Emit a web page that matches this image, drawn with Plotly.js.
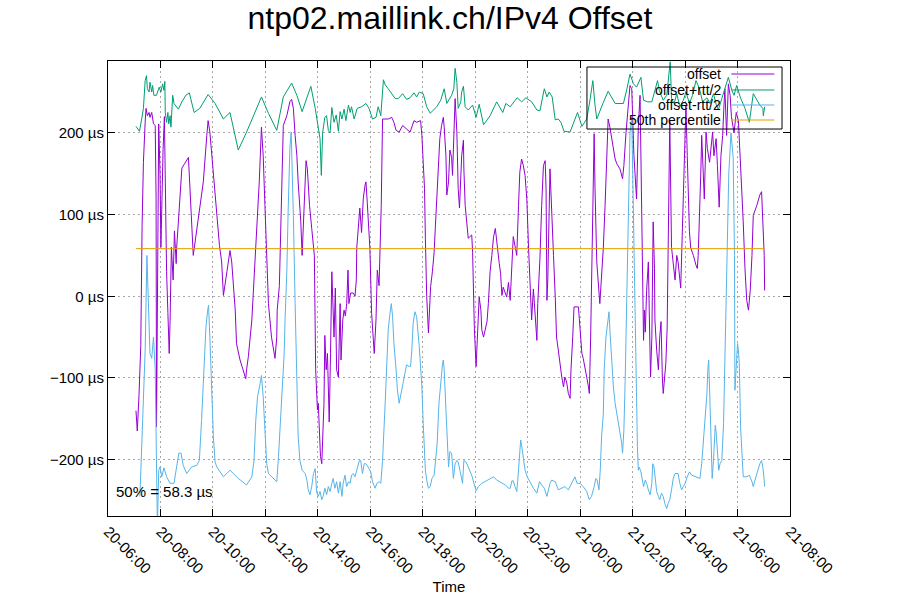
<!DOCTYPE html>
<html>
<head>
<meta charset="utf-8">
<script src="https://cdn.plot.ly/plotly-3.0.1.min.js"></script>
<style>html,body{margin:0;padding:0;background:#fff;}#chart{width:900px;height:600px;}</style>
</head>
<body>
<div id="chart"></div>
<script>
// Time values are minutes after 20th 06:00 (base date chosen arbitrarily; only day-hour shown)
const offsetMin = [64,67,71,75,78,81,85,87,90,94,96,100,104,108,110,111,116,119,121,124,
126,129,132,134,137,140,142,145,149,152,156,157,161,165,169,176,184,195,203,210,
218,226,229,233,241,249,255,260,264,272,279,283,287,291,294,302,309,315,317,321,
329,334,340,346,351,355,359,363,367,374,382,386,387,392,397,401,409,416,420,424,
428,432,435,441,444,447,451,453,456,461,466,470,472,475,479,481,486,489,491,494,
496,499,502,504,506,509,512,517,520,523,527,531,533,537,540,543,546,549,551,555,
561,565,568,569,573,576,580,584,588,590,593,596,599,603,607,609,613,616,620,625,
628,631,641,649,654,659,666,674,683,691,700,706,715,718,721,724,726,729,733,735,
738,742,746,749,752,755,759,763,767,769,773,775,779,782,786,788,791,794,798,801,
804,807,809,813,814,817,821,824,828,832,834,838,842,845,847,849,853,855,859,867,
870,874,878,882,886,889,895,898,901,904,912,916,920,927,931,935,939,942,946,950,
954,958,962,969,973,977,981,983,988,992,996,1000,1002,1004,1006,1011,1015,1019,1023,1026,
1030,1034,1038,1042,1045,1049,1053,1057,1059,1063,1066,1076,1080,1084,1087,1091,1095,1099,1101,1104,
1109,1112,1114,1118,1125,1133,1137,1141,1144,1148,1152,1156,1160,1164,1171,1177,1180,1185,1190,1194,
1198,1203,1209,1213,1217,1221,1224,1225,1227,1229,1232,1234,1236,1238,1241,1244,1247,1250,1251,1255,
1259,1262,1265,1268,1270,1272,1276,1279,1285,1289,1297,1301,1304,1310,1312,1316,1320,1322,1325,1330,
1333,1339,1345,1348,1350,1353,1356,1358,1360,1364,1368,1371,1376,1379,1383,1386,1391,1394,1398,1402,
1406,1409,1411,1415,1419,1423,1426,1432,1437,1442,1450,1453,1457,1461,1465,1469,1473,1476,1484,1491,
1495,1498,1501,1502];
const offsetUs = [-140,-165,-120,-60,87,164,213,230,221,225,219,225,211,209,120,-160,211,150,60,140,
180,220,100,30,-20,-70,-30,60,20,80,40,59,91,132,157,163,170,50,83,111,
140,197,215,201,152,108,62,42,1,30,56,42,14,-17,-58,-78,-90,-101,-90,-74,
-29,20,83,140,207,172,111,50,-9,-50,-76,-50,-17,13,144,209,221,238,241,230,
197,172,140,91,50,91,140,166,156,111,83,54,50,-90,-139,-131,-196,-205,-172,-131,
-48,-90,-70,-131,-154,-70,30,-50,10,-90,-99,-9,-78,-29,-17,-24,-9,32,-9,4,
4,0,20,59,95,108,78,120,136,140,115,91,59,-21,-50,-70,-29,32,13,111,
217,217,217,219,213,203,201,209,205,201,215,213,215,197,164,132,71,0,-45,-17,
12,30,54,87,120,160,193,209,219,207,172,124,140,179,170,148,193,242,201,132,
108,140,172,191,156,111,87,71,73,75,54,-40,-86,-50,-9,-1,-17,-41,-50,-31,
-9,30,50,73,83,66,40,28,1,11,-1,17,-5,73,62,50,111,152,168,160,
148,119,59,-29,9,-29,-54,-9,46,111,160,166,132,-5,20,156,91,50,0,-50,
-66,-86,-99,-111,-99,-105,-119,-125,-90,-50,-13,-13,-41,-70,-76,-86,-99,-111,-119,-50,
132,199,132,42,-9,59,111,172,217,207,195,181,168,162,156,144,160,201,240,258,
254,172,119,207,246,91,7,-54,-17,-44,7,22,42,-17,-99,-50,91,34,-29,-66,
-90,-50,-31,-99,-119,-107,-82,-39,215,60,20,50,42,10,50,99,193,234,172,79,
59,50,38,34,50,91,152,197,172,119,201,181,164,181,201,172,193,160,109,172,
197,234,254,197,260,246,220,200,225,215,132,91,34,-5,-17,7,50,99,111,124,
128,91,50,7];

const upperMin = [64,72,77,81,85,88,90,94,96,100,102,105,111,117,121,125,128,130,131,134,
137,139,142,144,148,151,161,169,178,186,197,210,229,245,264,279,298,317,351,367,
386,401,420,432,444,464,474,481,485,488,491,496,500,504,508,512,517,522,527,531,
535,540,544,550,554,557,563,570,580,590,597,605,613,618,624,630,634,641,657,664,
674,683,691,700,706,712,721,729,737,752,761,769,775,786,791,794,798,801,807,809,
813,817,824,834,842,849,853,859,874,889,903,910,920,936,946,956,969,981,988,998,
1004,1009,1016,1023,1030,1036,1043,1057,1064,1074,1084,1095,1103,1109,1114,1118,1132,1144,1160,1179,
1187,1194,1202,1209,1219,1225,1234,1244,1251,1257,1261,1270,1278,1284,1286,1289,1295,1301,1308,1316,
1322,1330,1337,1345,1353,1360,1370,1377,1385,1391,1396,1404,1411,1419,1427,1432,1438,1446,1457,1467,
1476,1484,1491,1498,1499,1502];
const upperUs = [208,202,217,230,264,270,254,250,262,250,258,246,246,256,250,260,252,263,225,213,
225,211,221,207,246,236,229,238,246,249,225,230,247,236,217,225,179,201,244,224,
203,244,261,246,226,257,230,207,193,148,201,219,221,203,200,231,213,222,202,226,
217,229,215,234,225,232,217,230,232,236,230,217,219,232,221,265,259,254,242,242,
248,241,243,249,244,250,248,232,224,232,240,254,236,246,254,279,262,230,238,250,
257,232,228,234,219,235,225,210,221,238,225,236,232,243,238,243,238,228,227,254,
244,250,244,216,217,213,202,201,211,225,208,217,242,264,234,217,236,251,236,236,
254,272,260,256,268,240,238,238,252,264,252,240,246,272,287,242,236,248,232,240,
250,236,246,264,254,238,243,236,248,235,228,242,254,268,252,246,258,244,230,213,
248,240,234,230,221,232];

const lowerMin = [73,77,81,85,89,92,96,100,104,108,110,113,116,119,123,128,134,142,151,157,
162,167,172,180,191,203,209,214,220,224,228,230,233,237,241,245,249,264,279,298,
317,329,334,338,342,348,351,355,359,363,367,378,386,390,395,400,403,405,409,412,
416,419,421,424,428,432,435,439,444,451,455,458,462,466,470,474,477,481,485,489,
492,496,500,504,508,512,515,519,523,527,531,535,538,542,546,550,554,557,561,565,
570,575,578,582,586,590,595,601,605,611,615,620,624,628,634,637,641,645,648,651,
654,659,662,666,672,676,680,683,689,692,695,698,702,706,712,718,721,726,729,733,
737,741,746,749,753,757,761,765,767,769,773,776,779,782,786,790,794,798,801,805,
809,811,814,819,824,832,837,842,847,855,862,874,882,889,897,909,916,920,924,927,
931,935,937,941,944,946,950,954,959,966,973,981,987,992,998,1004,1011,1015,1023,1030,
1038,1045,1053,1061,1068,1073,1080,1087,1095,1101,1106,1112,1116,1119,1123,1126,1129,1133,1135,1139,
1143,1146,1148,1152,1156,1160,1164,1167,1171,1175,1177,1180,1183,1185,1187,1190,1194,1198,1201,1203,
1205,1208,1211,1213,1215,1219,1222,1225,1229,1232,1236,1240,1244,1246,1249,1252,1255,1259,1262,1266,
1270,1274,1278,1281,1285,1289,1293,1297,1304,1308,1312,1316,1320,1325,1330,1335,1343,1350,1354,1358,
1362,1366,1370,1372,1374,1377,1379,1382,1385,1387,1389,1391,1394,1397,1400,1404,1408,1410,1411,1416,
1420,1425,1430,1433,1434,1440,1442,1444,1447,1451,1453,1461,1467,1473,1476,1480,1484,1487,1491,1495,
1498,1501,1502];
const lowerUs = [-245,-188,-131,-66,50,-9,-70,-76,-50,-90,-160,-285,-213,-209,-221,-210,-221,-229,-229,-209,
-192,-192,-207,-217,-209,-207,-201,-152,-90,-38,-17,-11,-50,-111,-172,-203,-209,-221,-213,-223,
-231,-221,-201,-152,-123,-107,-97,-123,-160,-205,-217,-223,-227,-196,-144,-99,-70,-29,30,103,
181,201,168,99,-9,-119,-172,-201,-213,-217,-225,-237,-243,-233,-217,-211,-239,-245,-239,-249,
-245,-235,-243,-233,-239,-229,-223,-235,-227,-241,-227,-245,-229,-219,-233,-227,-229,-219,-217,-221,
-211,-201,-201,-217,-205,-205,-209,-215,-227,-235,-229,-227,-229,-201,-131,-82,-41,-21,-9,-25,
-58,-90,-115,-131,-115,-107,-95,-84,-86,-86,-66,-33,-19,-25,-62,-111,-156,-213,-225,-235,
-233,-223,-219,-205,-180,-131,-103,-84,-78,-90,-139,-188,-209,-190,-192,-223,-205,-201,-203,-213,
-227,-229,-201,-203,-209,-219,-229,-238,-233,-229,-227,-223,-221,-225,-227,-231,-235,-235,-226,-226,
-233,-239,-227,-201,-176,-182,-201,-213,-221,-229,-235,-241,-227,-231,-235,-245,-229,-225,-227,-237,
-235,-233,-237,-229,-221,-229,-229,-233,-239,-249,-245,-233,-223,-225,-237,-213,-172,-144,-90,-50,
-29,-19,-41,-78,-111,-131,-144,-156,-172,-180,-192,-164,-103,-41,16,120,200,220,120,40,
-20,-123,-184,-213,-209,-215,-223,-233,-225,-229,-237,-243,-229,-205,-209,-227,-239,-245,-249,-241,
-245,-254,-260,-254,-249,-237,-223,-217,-217,-229,-237,-233,-229,-221,-215,-219,-221,-223,-223,-205,
-178,-148,-119,-90,-78,-131,-180,-223,-201,-180,-158,-166,-192,-213,-205,-201,-156,-111,-66,60,
150,200,170,50,-115,-58,-66,-82,-160,-201,-221,-221,-219,-227,-233,-225,-217,-211,-205,-201,
-210,-225,-233];

const medianUs = 58.3;
const seriesNames = ['offset', 'offset+rtt/2', 'offset-rtt/2', '50th percentile'];
const seriesColors = ['#9400d3', '#009e73', '#56b4e9', '#e69f00'];
const xTickStartMin = 0, xTickEndMin = 26 * 60;

function toTime(m) {
  const ms = Date.UTC(2024, 4, 20, 6, 0) + m * 60000;
  return new Date(ms).toISOString().slice(0, 19).replace('T', ' ');
}

const FONT = 'Liberation Sans, Arial, sans-serif';
const traces = [
  {x: offsetMin.map(toTime), y: offsetUs, name: seriesNames[0], mode: 'lines', line: {color: seriesColors[0], width: 1}},
  {x: upperMin.map(toTime), y: upperUs, name: seriesNames[1], mode: 'lines', line: {color: seriesColors[1], width: 1}},
  {x: lowerMin.map(toTime), y: lowerUs, name: seriesNames[2], mode: 'lines', line: {color: seriesColors[2], width: 1}},
  {x: [toTime(offsetMin[0]), toTime(offsetMin[offsetMin.length - 1])], y: [medianUs, medianUs], name: seriesNames[3], mode: 'lines', line: {color: seriesColors[3], width: 1}}
];

// custom gnuplot-style key (text left of sample line)
const keyRows = [0.9714, 0.9363, 0.9033, 0.8703];
const annotations = seriesNames.map((n, i) => ({
  xref: 'paper', yref: 'paper', x: 0.901, y: keyRows[i], xanchor: 'right', yanchor: 'middle',
  text: n, showarrow: false, font: {family: FONT, size: 14, color: '#000'}, borderpad: 0
}));
annotations.push({
  xref: 'paper', yref: 'paper', x: 0.009, y: 0.053, xanchor: 'left', yanchor: 'middle',
  text: '50% = ' + medianUs + ' µs', showarrow: false, font: {family: FONT, size: 15, color: '#000'}
});
const shapes = [{type: 'rect', xref: 'paper', yref: 'paper', x0: 0.7023, x1: 0.9883, y0: 0.8505, y1: 0.9868,
  line: {color: '#000', width: 1}, fillcolor: 'rgba(0,0,0,0)'}];
seriesColors.forEach((c, i) => shapes.push({type: 'line', xref: 'paper', yref: 'paper',
  x0: 0.914, x1: 0.977, y0: keyRows[i], y1: keyRows[i], line: {color: c, width: 1}}));

const axisCommon = {
  showgrid: true, gridcolor: '#a8a8a8', griddash: '2px,3px', gridwidth: 1,
  ticks: 'inside', ticklen: 7, tickcolor: '#000', mirror: 'ticks',
  showline: true, linecolor: '#000', linewidth: 1, zeroline: false,
  tickfont: {family: FONT, size: 15, color: '#000'}, automargin: false
};

const layout = {
  width: 900, height: 600,
  margin: {l: 108, r: 110, t: 61, b: 84},
  paper_bgcolor: '#fff', plot_bgcolor: '#fff',
  showlegend: false,
  title: {text: 'ntp02.maillink.ch/IPv4 Offset', font: {family: FONT, size: 32, color: '#000'},
    x: 0.5, xanchor: 'center', y: 0.97, yanchor: 'middle'},
  xaxis: Object.assign({}, axisCommon, {
    type: 'date', range: [toTime(xTickStartMin), toTime(xTickEndMin)],
    tick0: toTime(xTickStartMin), dtick: 7200000, tickformat: '%d-%H:%M', tickangle: 45,
    title: {text: 'Time', font: {family: FONT, size: 15, color: '#000'}, standoff: 5}
  }),
  yaxis: Object.assign({}, axisCommon, {
    range: [-269, 288], tick0: 0, dtick: 100, ticksuffix: ' µs'
  }),
  annotations: annotations, shapes: shapes
};

Plotly.newPlot('chart', traces, layout, {displayModeBar: false, staticPlot: true});
</script>
</body>
</html>
